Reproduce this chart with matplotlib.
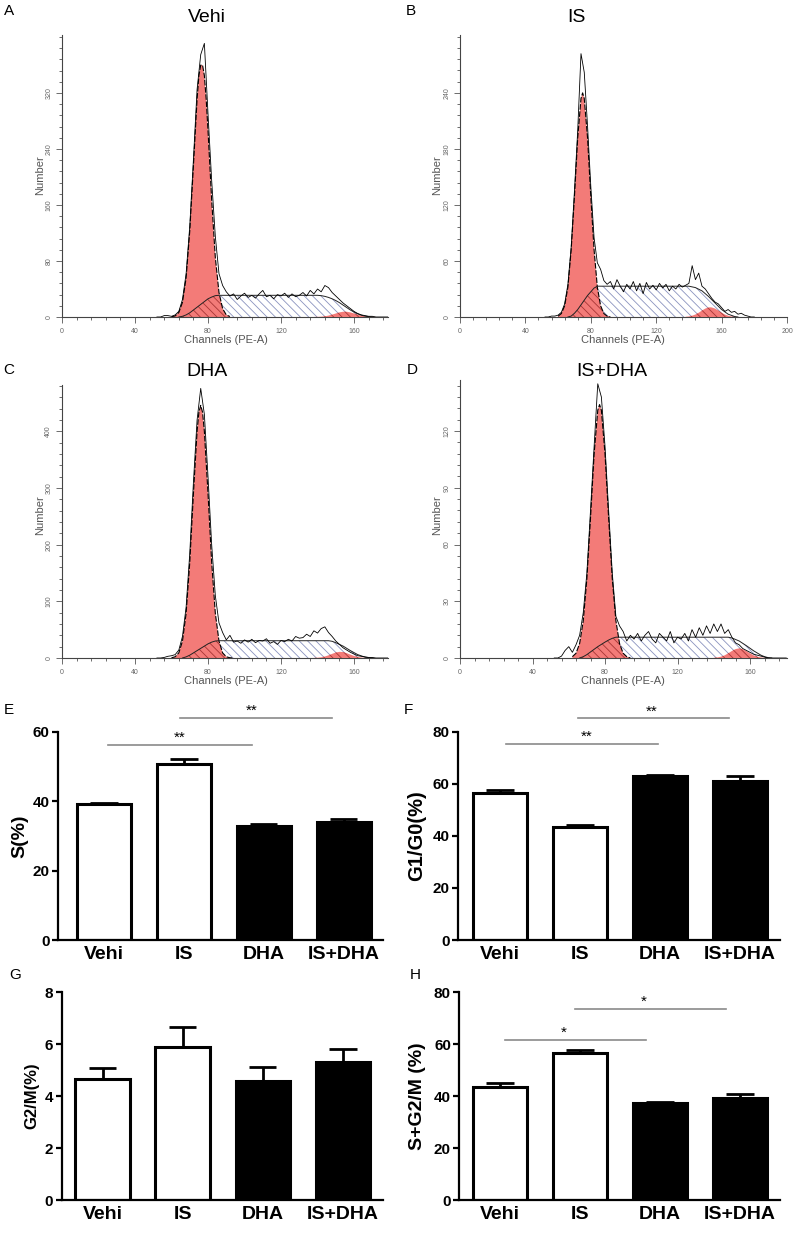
import numpy as np
import matplotlib
matplotlib.use("Agg")
import matplotlib.pyplot as plt
from matplotlib.ticker import MultipleLocator, FixedLocator

plt.rcParams['font.family'] = ['Liberation Sans', 'DejaVu Sans']
plt.rcParams['hatch.linewidth'] = 0.6

# ---------------- histogram data ----------------
raw_ch = list(range(52, 182, 2))

raw_A = [0, 0, 2, 2, 1, 3, 8, 25, 62, 130,
         225, 325, 375, 391, 290, 195, 115, 62, 45, 36,
         30, 33, 25, 30, 34, 28, 31, 27, 33, 38,
         29, 31, 26, 32, 30, 34, 28, 33, 29, 31,
         35, 30, 38, 33, 40, 36, 45, 42, 35, 30,
         25, 20, 16, 12, 8, 5, 3, 2, 1, 1,
         0, 0, 0, 0, 0]
g1_ch_A = [60, 62, 64, 66, 68, 70, 72, 74, 75, 76, 77, 78, 79, 80, 82, 84, 86, 88, 90, 92]
g1_A = [0.3, 1.6, 6.4, 21, 56, 123, 216, 311, 345, 360, 360, 345, 311, 266, 167, 85, 35, 12, 3, 0.7]
s_ch_A = [64, 66, 68, 70, 72, 74, 76, 78, 80, 82, 84, 86,
          140, 142, 144, 146, 148, 150, 152, 154, 156, 158, 160, 162, 164, 166, 168, 170]
s_A = [0, 1, 3, 6, 10, 14, 18, 22, 26, 28.5, 30.5, 31,
       31, 30.5, 29.5, 28, 26, 23.5, 20.5, 17, 13.5, 10, 7, 4.5, 2.5, 1.2, 0.5, 0]
g2_ch_A = [138, 140, 142, 144, 146, 148, 150, 152, 154, 156, 158, 160, 162, 164, 166, 168, 170, 172]
g2_A = [0.06, 0.2, 0.5, 1.0, 2.0, 3.4, 5.0, 6.6, 7.5, 7.5, 6.6, 5.0, 3.4, 2.0, 1.0, 0.5, 0.2, 0.06]

raw_B = [0, 0, 1, 1, 2, 5, 14, 35, 75, 135,
         200, 282, 262, 205, 140, 85, 58, 51, 39, 35,
         38, 30, 40, 33, 27, 35, 30, 38, 28, 36,
         25, 37, 30, 34, 29, 36, 31, 35, 28, 33,
         30, 35, 32, 34, 36, 55, 40, 47, 33, 30,
         25, 20, 16, 14, 10, 6, 8, 5, 6, 3,
         4, 2, 1, 0, 0]
g1_ch_B = [60, 62, 64, 66, 68, 70, 72, 74, 75, 76, 78, 80, 82, 84, 86, 88, 90, 92]
g1_B = [0.9, 3.7, 12, 32, 72, 129, 192, 234, 240, 234, 192, 129, 72, 32, 12, 3.7, 0.9, 0]
s_ch_B = [66, 68, 70, 72, 74, 76, 78, 80, 82, 84, 140, 144, 148, 152, 156, 160, 164, 168, 170]
s_B = [0, 1, 4, 8, 13, 18, 23, 27, 31, 33, 33, 31.5, 28, 22, 15, 8, 3, 0.5, 0]
g2_ch_B = [138, 140, 142, 144, 146, 148, 150, 152, 153, 154, 156, 158, 160, 162, 164, 166, 168, 170]
g2_B = [0.25, 0.6, 1.4, 2.7, 4.6, 6.9, 9.0, 10.2, 10.4, 10.2, 9.0, 6.9, 4.6, 2.7, 1.4, 0.6, 0.25, 0]

raw_C = [0, 0, 1, 3, 4, 6, 14, 38, 90, 185,
         310, 420, 476, 430, 320, 200, 110, 62, 45, 32,
         40, 28, 30, 26, 32, 28, 33, 27, 31, 30,
         34, 26, 29, 24, 31, 29, 33, 30, 38, 35,
         36, 42, 38, 48, 44, 52, 55, 45, 38, 30,
         24, 18, 14, 10, 7, 4, 3, 2, 1, 1,
         0, 0, 0, 0, 0]
g1_ch_C = [60, 62, 64, 66, 68, 70, 72, 74, 75, 76, 77, 78, 80, 82, 84, 86, 88, 90, 92, 94]
g1_C = [0.4, 2.2, 9, 30, 79, 169, 290, 400, 434, 446, 434, 400, 290, 169, 79, 30, 9, 2.2, 0.4, 0]
s_ch_C = [66, 68, 70, 72, 74, 76, 78, 80, 82, 84, 86, 146, 148, 150, 154, 158, 162, 166, 168, 170]
s_C = [0, 2, 5, 9, 13, 17, 21, 25, 28, 30, 30.5, 30.5, 29.5, 27, 21, 13, 6, 1.5, 0.5, 0]
g2_ch_C = [138, 140, 142, 144, 146, 148, 150, 152, 154, 156, 158, 160, 162, 164, 166, 168, 170]
g2_C = [0.2, 0.5, 1.2, 2.6, 4.7, 7.3, 9.7, 10.9, 10.5, 8.6, 6.0, 3.6, 1.8, 0.8, 0.3, 0.1, 0]

raw_D = [0, 0, 1, 4, 6, 3, 7, 12, 24, 45,
         78, 112, 145, 138, 112, 78, 45, 22, 17, 14,
         9, 12, 10, 13, 9, 12, 14, 10, 8, 13,
         11, 9, 14, 8, 11, 10, 13, 9, 15, 11,
         16, 12, 17, 13, 18, 14, 18, 13, 15, 11,
         8, 7, 5, 4, 3, 2, 1.5, 1, 0.5, 0,
         0, 0, 0, 0, 0]
g1_ch_D = [62, 64, 66, 68, 70, 72, 74, 76, 77, 78, 80, 82, 84, 86, 88, 90, 92, 94]
g1_D = [0.7, 2.5, 7.7, 19.7, 42, 74, 108, 131, 134, 131, 108, 74, 42, 19.7, 7.7, 2.5, 0.7, 0]
s_ch_D = [66, 68, 70, 72, 74, 76, 78, 80, 82, 84, 86, 148, 150, 154, 158, 162, 166, 168, 170, 172]
s_D = [0, 0.7, 1.8, 3.2, 4.6, 6, 7.2, 8.4, 9.5, 10.4, 11, 11, 10.6, 9, 6.5, 3.8, 1.5, 0.7, 0.2, 0]
g2_ch_D = [140, 142, 144, 146, 148, 150, 152, 154, 156, 158, 160, 162, 164, 166, 168, 170]
g2_D = [0.1, 0.3, 0.7, 1.4, 2.5, 3.7, 4.7, 5.1, 4.7, 3.7, 2.5, 1.4, 0.7, 0.3, 0.1, 0]

hist_titles = ['Vehi', 'IS', 'DHA', 'IS+DHA']
yticks_A = [0, 80, 160, 240, 320]
yticks_B = [0, 60, 120, 180, 240]
yticks_C = [0, 100, 200, 300, 400]
yticks_D = [0, 30, 60, 90, 120]
xticks_A = [0, 40, 80, 120, 160]
xticks_B = [0, 40, 80, 120, 160, 200]

# ---------------- bar chart data ----------------
groups = ['Vehi', 'IS', 'DHA', 'IS+DHA']
S_mean = [39.3, 50.8, 32.8, 33.9]
S_err = [0.3, 1.2, 0.7, 1.0]
G1_mean = [56.3, 43.5, 63.0, 61.2]
G1_err = [1.3, 0.8, 0.5, 1.8]
G2M_mean = [4.65, 5.9, 4.58, 5.33]
G2M_err = [0.45, 0.75, 0.53, 0.5]
SG2M_mean = [43.6, 56.7, 37.2, 39.4]
SG2M_err = [1.4, 1.0, 0.4, 1.6]

# significance bars: (x_start, x_end, y, label, x_label)
sig_E = [(0.05, 1.85, 56.3, '**', 0.95), (0.95, 2.85, 64.0, '**', 1.85)]
sig_F = [(0.075, 1.97, 75.2, '**', 1.08), (0.97, 2.86, 85.1, '**', 1.9)]
sig_H = [(0.06, 1.83, 61.6, '*', 0.79), (0.94, 2.83, 73.6, '*', 1.79)]

# ---------------- drawing ----------------
W, H = 800, 1237
fig = plt.figure(figsize=(8, 12.37), dpi=100)


def add_ax(l, r, b, t):
    return fig.add_axes([l / W, 1 - b / H, (r - l) / W, (b - t) / H])


RED = '#f37b78'
DRED = '#a83535'
BLUE = '#8a93bf'
GRAY = '#555555'
HATCH = '\\\\\\\\'


def draw_hist(ax, raw, g1c, g1, sc, s, g2c, g2, xmax, ymax, xticks, yticks):
    ax.fill_between(sc, 0, s, facecolor='white', edgecolor=BLUE, hatch=HATCH, lw=0, zorder=1)
    g1p = ax.fill_between(g1c, 0, g1, facecolor=RED, lw=0, zorder=2)
    sh = ax.fill_between(sc, 0, s, facecolor='none', edgecolor=DRED, hatch=HATCH, lw=0, zorder=3)
    sh.set_clip_path(g1p.get_paths()[0], ax.transData)
    ax.fill_between(g2c, 0, g2, facecolor=RED, edgecolor=DRED, hatch=HATCH, lw=0, zorder=3)
    ax.plot(g1c, g1, color='k', lw=0.8, ls=(0, (5, 1.5)), zorder=4)
    ax.plot(sc, s, color='#222222', lw=0.7, zorder=4)
    ax.plot(raw_ch, raw, color='k', lw=0.6, zorder=5)
    ax.set_xlim(0, xmax)
    ax.set_ylim(0, ymax)
    for sp in ['top', 'right']:
        ax.spines[sp].set_visible(False)
    for sp in ['left', 'bottom']:
        ax.spines[sp].set_color('#444444')
        ax.spines[sp].set_linewidth(0.8)
    ax.xaxis.set_major_locator(FixedLocator(xticks))
    ax.xaxis.set_minor_locator(MultipleLocator(8))
    ax.yaxis.set_major_locator(FixedLocator(yticks))
    ax.yaxis.set_minor_locator(MultipleLocator(yticks[1] / 5))
    ax.tick_params(which='both', direction='out', color='#555555', labelcolor='#666666',
                   labelsize=5, width=0.6)
    ax.tick_params(which='major', length=4, pad=4)
    ax.tick_params(which='minor', length=2.5)
    ax.tick_params(axis='y', labelrotation=90, pad=3)
    for lb in ax.get_yticklabels():
        lb.set_va('center')


axA = add_ax(62, 388, 317, 35)
draw_hist(axA, raw_A, g1_ch_A, g1_A, s_ch_A, s_A, g2_ch_A, g2_A, 178.6, 403, xticks_A, yticks_A)
axB = add_ax(460, 787, 317, 35)
draw_hist(axB, raw_B, g1_ch_B, g1_B, s_ch_B, s_B, g2_ch_B, g2_B, 200, 302, xticks_B, yticks_B)
axC = add_ax(62, 388, 658, 385)
draw_hist(axC, raw_C, g1_ch_C, g1_C, s_ch_C, s_C, g2_ch_C, g2_C, 178.6, 482, xticks_A, yticks_C)
axD = add_ax(460, 787, 658, 380)
draw_hist(axD, raw_D, g1_ch_D, g1_D, s_ch_D, s_D, g2_ch_D, g2_D, 180.4, 147, xticks_A, yticks_D)


def ftext(x, y, s, **kw):
    fig.text(x / W, 1 - y / H, s, **kw)


# histogram titles / labels
for (tx, ty), t in zip([(207, 18), (576, 18), (207, 372), (612, 372)], hist_titles):
    ftext(tx, ty, t, ha='center', va='center', fontsize=14)
for (tx, ty) in [(226, 340), (623, 340), (226, 681), (623, 681)]:
    ftext(tx, ty, 'Channels (PE-A)', ha='center', va='center', fontsize=8, color=GRAY)
for (tx, ty) in [(40, 175), (437, 175), (40, 515), (437, 515)]:
    ftext(tx, ty, 'Number', ha='center', va='center', fontsize=8, color=GRAY, rotation=90)

# panel letters
for (tx, ty), L in zip([(9, 11), (411, 11), (9, 370), (412, 370),
                        (9, 710), (408, 710), (15, 975), (415, 975)], 'ABCDEFGH'):
    ftext(tx, ty, L, ha='center', va='center', fontsize=11)


def draw_bar(ax, means, errs, ymax, ystep, xlim, sigs):
    x = np.arange(len(groups))
    colors = ['white', 'white', 'black', 'black']
    ax.bar(x, means, width=0.68, color=colors, edgecolor='black', linewidth=2.2, zorder=2)
    m = np.array(means)
    e = np.array(errs)
    ax.vlines(x, m, m + e, color='black', lw=2.0, zorder=3)
    ax.hlines(m + e, x - 0.17, x + 0.17, color='black', lw=2.0, zorder=3)
    ax.set_xlim(*xlim)
    ax.set_ylim(0, ymax)
    ax.set_yticks(np.arange(0, ymax + ystep / 2, ystep))
    ax.set_yticklabels([f'{v:g}' for v in np.arange(0, ymax + ystep / 2, ystep)],
                       fontweight='bold', fontsize=11)
    ax.set_xticks(x)
    ax.set_xticklabels(groups, fontweight='bold', fontsize=14)
    for sp in ['top', 'right']:
        ax.spines[sp].set_visible(False)
    for sp in ['left', 'bottom']:
        ax.spines[sp].set_linewidth(1.6)
    ax.tick_params(axis='y', direction='out', length=4, width=1.6, pad=2)
    ax.tick_params(axis='x', length=0, pad=4)
    for x1, x2, y, lab, xs in sigs:
        ax.plot([x1, x2], [y, y], color='#8a8a8a', lw=1.2, clip_on=False)
        ax.text(xs, y, lab, ha='center', va='bottom', fontsize=11, clip_on=False)


axE = add_ax(58, 383, 940, 731.7)
draw_bar(axE, S_mean, S_err, 60, 20, (-0.575, 3.49), sig_E)
axF = add_ax(458, 780, 940, 731.7)
draw_bar(axF, G1_mean, G1_err, 80, 20, (-0.525, 3.5), sig_F)
axG = add_ax(61.7, 383, 1200, 992.3)
draw_bar(axG, G2M_mean, G2M_err, 8, 2, (-0.51, 3.5), [])
axH = add_ax(459.3, 780, 1200, 992.3)
draw_bar(axH, SG2M_mean, SG2M_err, 80, 20, (-0.51, 3.5), sig_H)

ftext(20, 836, 'S(%)', ha='center', va='center', rotation=90, fontsize=14, fontweight='bold')
ftext(417, 836, 'G1/G0(%)', ha='center', va='center', rotation=90, fontsize=14.5, fontweight='bold')
ftext(32, 1096, 'G2/M(%)', ha='center', va='center', rotation=90, fontsize=12, fontweight='bold')
ftext(417, 1096, 'S+G2/M (%)', ha='center', va='center', rotation=90, fontsize=14, fontweight='bold')

fig.savefig('out.png', dpi=100)
